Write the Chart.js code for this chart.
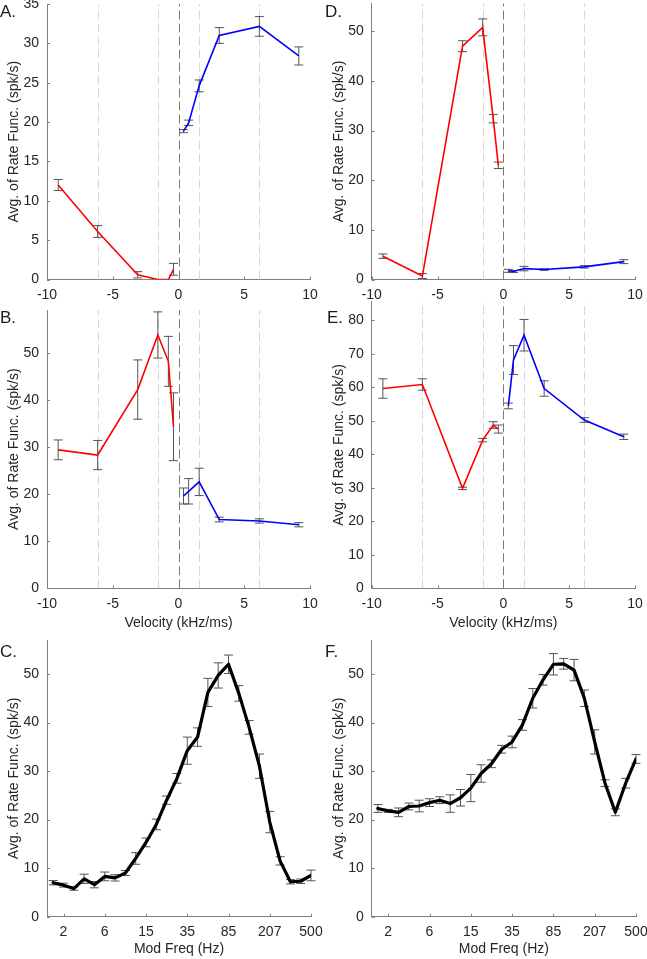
<!DOCTYPE html>
<html><head><meta charset="utf-8">
<script src="https://cdn.jsdelivr.net/npm/chart.js@4.4.0/dist/chart.umd.min.js"></script>
<style>
html,body{margin:0;padding:0;background:#fff;width:647px;height:959px;overflow:hidden}
canvas{position:absolute;left:0;top:0}
.lbl{position:absolute;font-family:"Liberation Sans",Arial,sans-serif;font-size:17px;line-height:17px;color:#1a1a1a;z-index:5}
</style></head><body>
<canvas id="cA" width="647" height="959"></canvas>
<canvas id="cB" width="647" height="959"></canvas>
<canvas id="cC" width="647" height="959"></canvas>
<canvas id="cD" width="647" height="959"></canvas>
<canvas id="cE" width="647" height="959"></canvas>
<canvas id="cF" width="647" height="959"></canvas>
<div class="lbl" style="left:0;top:3px">A.</div>
<div class="lbl" style="left:325px;top:3px">D.</div>
<div class="lbl" style="left:0;top:309px">B.</div>
<div class="lbl" style="left:327px;top:309px">E.</div>
<div class="lbl" style="left:0;top:643px">C.</div>
<div class="lbl" style="left:325px;top:643px">F.</div>
<script>
// ---------- data ----------
const velNeg = [-9.15, -6.15, -3.1, -1.57, -0.77, -0.38];
const velPos = [0.38, 0.77, 1.57, 3.1, 6.15, 9.15];
const refLightX = [-6.15, -1.57, 1.57, 6.15];
const refZeroX = 0;
const velTicks = [-10, -5, 0, 5, 10];

const aNeg = [12.0, 6.1, 0.6, 0.0, 0.0, 1.3];
const aNegErr = [0.7, 0.75, 0.4, 0, 0, 0.75];
const aPos = [18.85, 19.9, 24.6, 31.0, 32.15, 28.4];
const aPosErr = [0.2, 0.35, 0.75, 1.0, 1.25, 1.15];
const aYTicks = [0, 5, 10, 15, 20, 25, 30, 35];

const dNeg = [4.7, 0.7, 47.0, 50.8, 32.4, 23.0];
const dNegErr = [0.45, 0.5, 1.1, 1.7, 0.85, 0.65];
const dPos = [1.75, 1.6, 2.2, 2.0, 2.55, 3.6];
const dPosErr = [0.3, 0.2, 0.45, 0.15, 0.25, 0.4];
const dYTicks = [0, 10, 20, 30, 40, 50];

const bNeg = [29.4, 28.3, 42.2, 53.8, 48.2, 34.3];
const bNegErr = [2.1, 3.1, 6.3, 4.9, 5.3, 7.2];
const bPos = [19.6, 20.6, 22.6, 14.6, 14.3, 13.5];
const bPosErr = [1.7, 2.7, 2.9, 0.5, 0.45, 0.45];
const bYTicks = [0, 10, 20, 30, 40, 50];

const eNeg = [59.6, 60.8, 29.8, 44.2, 48.7, 47.5];
const eNegErr = [2.9, 1.7, 0.35, 0.5, 1.0, 1.2];
const ePos = [54.4, 68.1, 75.5, 59.6, 50.2, 45.2];
const ePosErr = [0.85, 4.3, 4.7, 2.3, 0.7, 0.8];
const eYTicks = [0, 10, 20, 30, 40, 50, 60, 70, 80];

const freqIdx = [0,1,2,3,4,5,6,7,8,9,10,11,12,13,14,15,16,17,18,19,20,21,22,23,24,25];
const freqTickIdx = [1, 5, 9, 13, 17, 21, 25];
const freqTickLabels = ['2', '6', '15', '35', '85', '207', '500'];
const mfYTicks = [0, 10, 20, 30, 40, 50];

const cVals = [7.0, 6.5, 5.8, 7.8, 6.6, 8.3, 8.0, 9.0, 12.0, 15.3, 19.0, 24.0, 28.5, 34.2, 37.0, 46.2, 49.7, 52.0, 46.0, 39.0, 31.0, 19.5, 11.5, 7.2, 7.3, 8.5];
const cErr  = [0.45, 0.4, 0.35, 0.95, 0.65, 0.9, 0.65, 0.5, 1.2, 0.9, 1.1, 0.85, 1.0, 2.8, 1.9, 2.9, 2.6, 1.9, 1.6, 1.4, 2.5, 2.2, 0.85, 0.45, 0.45, 1.1];
const fVals = [22.3, 21.8, 21.5, 22.7, 22.8, 23.5, 24.0, 23.3, 24.5, 26.5, 29.5, 31.5, 34.5, 36.0, 39.5, 45.0, 48.8, 52.0, 52.1, 50.8, 45.0, 36.0, 27.5, 21.5, 27.5, 32.5];
const fErr  = [0.8, 0.3, 0.9, 0.7, 1.2, 0.8, 0.7, 1.8, 1.7, 2.8, 1.8, 0.8, 0.8, 1.2, 1.1, 2.0, 1.1, 2.2, 1.1, 2.2, 1.7, 2.5, 0.7, 0.7, 1.0, 0.9];

// ---------- style ----------
const FONT = '"Liberation Sans", Arial, Helvetica, sans-serif';
const TXT = '#262626';
const AXC = '#808080';
const YLABEL = 'Avg. of Rate Func. (spk/s)';

const zip = (xs, ys) => xs.map((x, i) => ({x: x, y: ys[i]}));

const refPlugin = {
  id: 'refLines',
  beforeDatasetsDraw(chart, args, opts) {
    if (!opts || !opts.on) return;
    const ctx = chart.ctx, a = chart.chartArea, x = chart.scales.x;
    ctx.save();
    ctx.lineWidth = 1;
    ctx.setLineDash([9, 4]);
    const draw = (v, col) => {
      const px = Math.round(x.getPixelForValue(v)) + 0.5;
      ctx.strokeStyle = col;
      ctx.beginPath(); ctx.moveTo(px, a.bottom); ctx.lineTo(px, a.top); ctx.stroke();
    };
    refLightX.forEach(v => draw(v, '#d6d6d6'));
    draw(refZeroX, '#7a7a7a');
    ctx.restore();
  }
};
const errPlugin = {
  id: 'errBars',
  beforeDatasetsDraw(chart) {
    const ctx = chart.ctx, x = chart.scales.x, y = chart.scales.y;
    ctx.save();
    ctx.strokeStyle = '#555555'; ctx.lineWidth = 1; ctx.setLineDash([]);
    chart.data.datasets.forEach(ds => {
      if (!ds.errors) return;
      ds.data.forEach((p, i) => {
        const e = ds.errors[i]; if (!e) return;
        const px = x.getPixelForValue(p.x);
        const y1 = y.getPixelForValue(p.y - e), y2 = y.getPixelForValue(p.y + e);
        ctx.beginPath();
        ctx.moveTo(px, y1); ctx.lineTo(px, y2);
        ctx.moveTo(px - 4.5, y1); ctx.lineTo(px + 4.5, y1);
        ctx.moveTo(px - 4.5, y2); ctx.lineTo(px + 4.5, y2);
        ctx.stroke();
      });
    });
    ctx.restore();
  }
};
const tickPlugin = {
  id: 'inTicks',
  afterDatasetsDraw(chart) {
    const ctx = chart.ctx, a = chart.chartArea, x = chart.scales.x, y = chart.scales.y;
    ctx.save();
    ctx.strokeStyle = AXC; ctx.lineWidth = 1; ctx.setLineDash([]);
    ctx.beginPath();
    x.ticks.forEach(t => { const px = Math.round(x.getPixelForValue(t.value)) + 0.5; ctx.moveTo(px, a.bottom); ctx.lineTo(px, a.bottom - 3); });
    y.ticks.forEach(t => { const py = Math.round(y.getPixelForValue(t.value)) + 0.5; ctx.moveTo(a.left, py); ctx.lineTo(a.left + 3, py); });
    ctx.stroke();
    ctx.restore();
  }
};

function panel(id, o) {
  const pad = {left: o.L - 47, right: 647 - o.R, top: o.T, bottom: 959 - o.B - o.xh};
  return new Chart(document.getElementById(id), {
    type: 'line',
    data: {datasets: o.datasets},
    options: {
      responsive: false, animation: false, events: [],
      layout: {padding: pad},
      elements: {point: {radius: 0}, line: {tension: 0}},
      plugins: {legend: {display: false}, tooltip: {enabled: false}, refLines: {on: !!o.ref}},
      scales: {
        x: {
          type: 'linear', bounds: 'data', min: o.xmin, max: o.xmax,
          grid: {display: false, drawTicks: false},
          border: {display: true, color: AXC, width: 1},
          ticks: {font: {family: FONT, size: 14}, color: TXT, padding: 7, autoSkip: false, maxRotation: 0,
                  callback: o.xcb || (v => String(v))},
          title: {display: !!o.xtitle, text: o.xtitle || '', font: {family: FONT, size: 14}, color: TXT, padding: {top: 0, bottom: 0}},
          afterBuildTicks: s => { s.ticks = o.xticks.map(v => ({value: v})); },
          afterFit: s => { s.height = o.xh; s.paddingLeft = 0; s.paddingRight = 0; }
        },
        y: {
          type: 'linear', bounds: 'data', min: 0, max: o.ymax,
          grid: {display: false, drawTicks: false},
          border: {display: true, color: AXC, width: 1},
          ticks: {font: {family: FONT, size: 14}, color: TXT, padding: 8},
          title: {display: true, text: YLABEL, font: {family: FONT, size: 14}, color: TXT, padding: {top: 6, bottom: 0}},
          afterBuildTicks: s => { s.ticks = o.yticks.map(v => ({value: v})); },
          afterFit: s => { s.width = 47; s.paddingTop = 0; s.paddingBottom = 0; }
        }
      }
    },
    plugins: [refPlugin, errPlugin, tickPlugin]
  });
}

function velSets(neg, negErr, pos, posErr) {
  return [
    {data: zip(velNeg, neg), errors: negErr, borderColor: '#ff0000', borderWidth: 1.6, fill: false},
    {data: zip(velPos, pos), errors: posErr, borderColor: '#0000ff', borderWidth: 1.6, fill: false}
  ];
}
function freqSets(vals, errs) {
  return [{data: zip(freqIdx, vals), errors: errs, borderColor: '#000000', borderWidth: 3.2, borderJoinStyle: 'round', borderCapStyle: 'round', fill: false}];
}
const freqCb = v => { const k = freqTickIdx.indexOf(v); return k >= 0 ? freqTickLabels[k] : ''; };

panel('cA', {L: 47, R: 310, T: 4, B: 279.5, xh: 22, xmin: -10, xmax: 10, xticks: velTicks, ymax: 35, yticks: aYTicks, ref: true,
  datasets: velSets(aNeg, aNegErr, aPos, aPosErr)});
panel('cD', {L: 371.7, R: 635, T: 3.5, B: 279.5, xh: 22, xmin: -10, xmax: 10, xticks: velTicks, ymax: 55.6, yticks: dYTicks, ref: true,
  datasets: velSets(dNeg, dNegErr, dPos, dPosErr)});
panel('cB', {L: 47, R: 310, T: 310, B: 588.3, xh: 43, xmin: -10, xmax: 10, xticks: velTicks, ymax: 59.1, yticks: bYTicks, ref: true,
  xtitle: 'Velocity (kHz/ms)', datasets: velSets(bNeg, bNegErr, bPos, bPosErr)});
panel('cE', {L: 371.7, R: 635, T: 301.7, B: 588.3, xh: 43, xmin: -10, xmax: 10, xticks: velTicks, ymax: 85.5, yticks: eYTicks, ref: true,
  xtitle: 'Velocity (kHz/ms)', datasets: velSets(eNeg, eNegErr, ePos, ePosErr)});
panel('cC', {L: 47, R: 311, T: 640, B: 916.7, xh: 41.2, xmin: -0.6, xmax: 25, xticks: freqTickIdx, xcb: freqCb, ymax: 57, yticks: mfYTicks,
  xtitle: 'Mod Freq (Hz)', datasets: freqSets(cVals, cErr)});
panel('cF', {L: 371.7, R: 636, T: 640, B: 916.7, xh: 41.2, xmin: -0.6, xmax: 25, xticks: freqTickIdx, xcb: freqCb, ymax: 57, yticks: mfYTicks,
  xtitle: 'Mod Freq (Hz)', datasets: freqSets(fVals, fErr)});
</script>
</body></html>
